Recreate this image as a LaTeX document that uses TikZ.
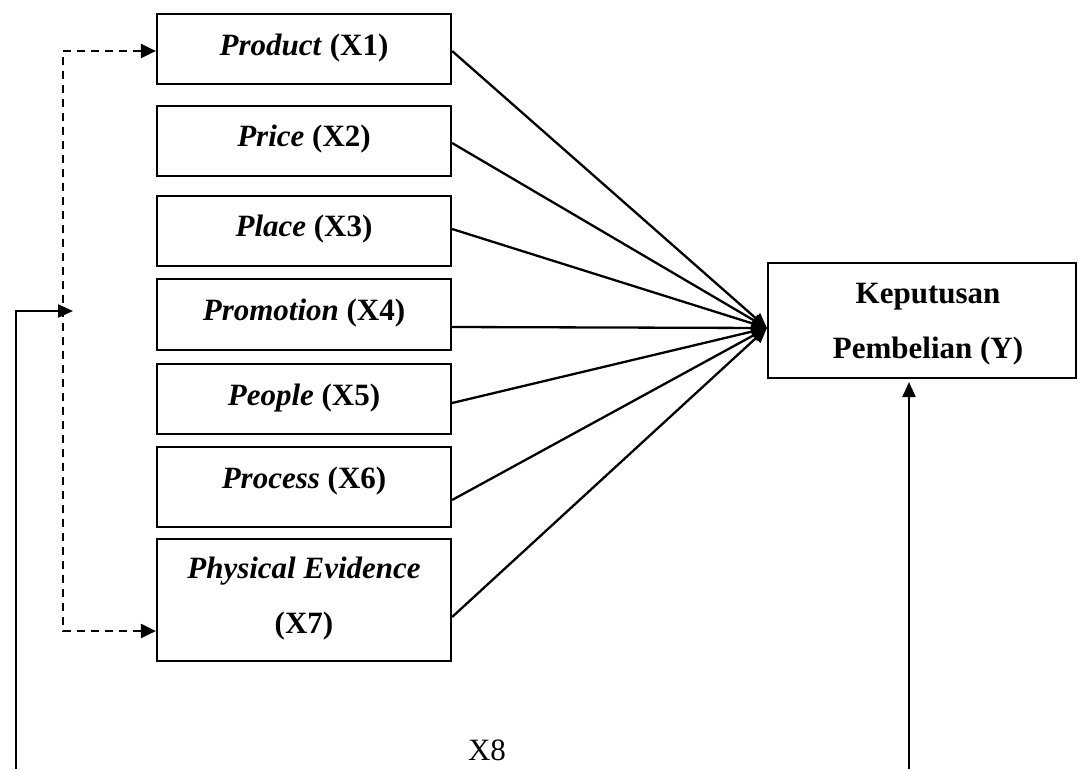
\documentclass[tikz,border=0pt]{standalone}
\usepackage{fontspec}
\setmainfont{Liberation Serif}
\usetikzlibrary{arrows.meta}
\begin{document}
\begin{tikzpicture}[x=1pt,y=-1pt,
  box/.style={draw, line width=2.2pt, minimum width=294pt, inner sep=0pt},
  lbl/.style={anchor=base, font=\fontsize{31}{37}\selectfont\bfseries, inner sep=0pt},
  plain/.style={anchor=base, font=\fontsize{31}{37}\selectfont, inner sep=0pt},
  conn/.style={line width=2.3pt, -{Triangle[length=15pt,width=13pt]}},
  dashconn/.style={line width=2.2pt, dash pattern=on 8pt off 6pt,
    {Triangle[length=15pt,width=14pt]}-{Triangle[length=15pt,width=14pt]}}
]
\fill[white] (0,0) rectangle (1078,769);
\useasboundingbox (0,0) rectangle (1078,769);

% predictor boxes
\node[box, minimum height=70pt]  (b1) at (304,49)    {};
\node[box, minimum height=70pt]  (b2) at (304,141)   {};
\node[box, minimum height=70pt]  (b3) at (304,231)   {};
\node[box, minimum height=71pt]  (b4) at (304,314.5) {};
\node[box, minimum height=70pt]  (b5) at (304,399)   {};
\node[box, minimum height=80pt]  (b6) at (304,487)   {};
\node[box, minimum height=122pt] (b7) at (304,600)   {};
% outcome box
\node[box, minimum width=308pt, minimum height=115pt] (Y) at (922,320.5) {};

% labels
\node[lbl] (t1)  at (304,55)  {\textit{Product} (X1)};
\node[lbl] (t2)  at (304,146) {\textit{Price} (X2)};
\node[lbl] (t3)  at (304,236) {\textit{Place} (X3)};
\node[lbl] (t4)  at (304,320) {\textit{Promotion} (X4)};
\node[lbl] (t5)  at (304,405) {\textit{People} (X5)};
\node[lbl] (t6)  at (304,488) {\textit{Process} (X6)};
\node[lbl] (t7a) at (304,578) {\textit{Physical Evidence}};
\node[lbl] (t7b) at (304,633) {(X7)};
\node[lbl] (ya)  at (928,303) {Keputusan};
\node[lbl] (yb)  at (928,358) {Pembelian (Y)};
\node[plain] (x8) at (487,760) {X8};

% helper coordinates
\coordinate (tip)  at ([yshift=-7.5pt]Y.west);
\coordinate (dashx) at (63,311);
\coordinate (jn)   at (73,311);
\coordinate (bot1) at (16,769);
\coordinate (bot2) at (909,769);
\coordinate (yin)  at (909,382);

% paths to Y
\draw[conn] ([yshift=-2pt]b1.east)    -- (tip);
\draw[conn] ([yshift=-2pt]b2.east)    -- (tip);
\draw[conn] ([yshift=2pt]b3.east)     -- (tip);
\draw[conn] ([yshift=-12.5pt]b4.east) -- (tip);
\draw[conn] ([yshift=-4pt]b5.east)    -- (tip);
\draw[conn] ([yshift=-13pt]b6.east)   -- (tip);
\draw[conn] ([yshift=-17pt]b7.east)   -- (tip);

% X8 connectors
\draw[conn] (bot1) |- (jn);
\draw[conn] (bot2) -- (yin);

% dashed bracket
\draw[dashconn] ([yshift=-2pt]b1.west) -| (dashx) |- ([yshift=-31pt]b7.west);
\end{tikzpicture}
\end{document}
